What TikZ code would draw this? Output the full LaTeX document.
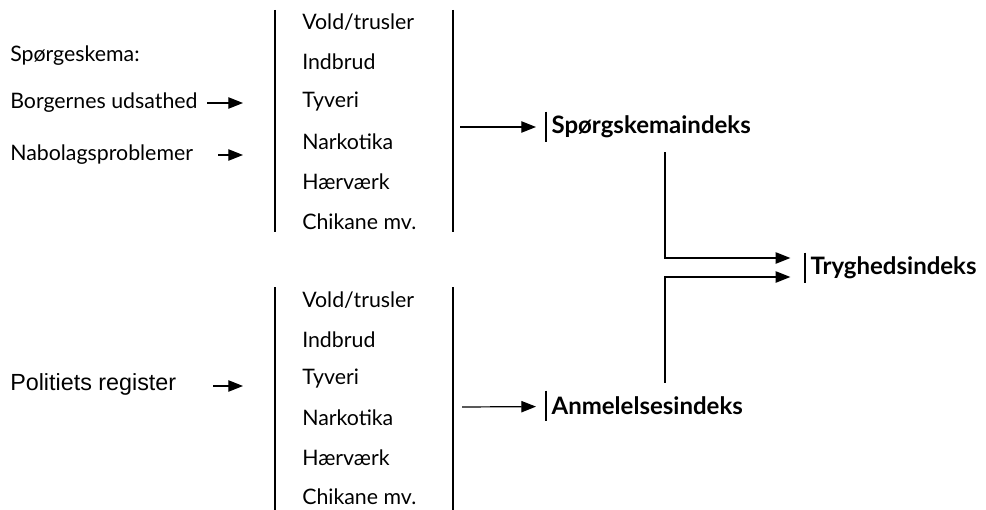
\documentclass[tikz,border=0pt]{standalone}
\usepackage{fontspec}
\setmainfont{Lato}
\newfontfamily\arialfont{Liberation Sans}
\usetikzlibrary{arrows.meta,positioning}

\begin{document}
\begin{tikzpicture}[x=0.75pt, y=-0.75pt, font=\fontsize{16}{19}\selectfont]
    \tikzstyle{srctext} = [anchor=west, inner sep=0pt]
    \tikzstyle{item} = [anchor=west, inner sep=0pt]
    \tikzstyle{idxbox} = [anchor=west, inner xsep=4pt, inner ysep=0pt, minimum height=22.5pt, font=\fontsize{18}{21}\selectfont\bfseries]
    \tikzstyle{arrow} = [line width=0.9pt, -{Triangle[length=11pt, width=8.5pt]}]
    \tikzstyle{bar} = [line width=0.9pt]

    \useasboundingbox (0,0) rectangle (986,510);

    % sources
    \node [srctext] (survey) at (10,56) {Spørgeskema:};
    \node [srctext] (exposed) at (10,103) {Borgernes udsathed};
    \node [srctext] (nbhood) at (10,155) {Nabolagsproblemer};
    \node [srctext, font=\arialfont\fontsize{17.5}{20}\selectfont] (police) at (10,384) {Politiets register};

    \coordinate (exposedin) at (243,103);
    \coordinate (nbhoodin) at (243,155);
    \coordinate (policein) at (243,386);

    \draw [arrow, shorten <=7pt] (exposed.east) -- (exposedin);
    \draw [arrow] (nbhoodin -| 218,0) -- (nbhoodin);
    \draw [arrow] (policein -| 213,0) -- (policein);

    % crime types
    \draw [bar] (275,10) -- (275,232);
    \draw [bar] (453,10) -- (453,232);
    \foreach \t [count=\i from 0] in {Vold/trusler, Indbrud, Tyveri, Narkotika, Hærværk, Chikane mv.}
        \node [item] (q\i) at (302,22+40*\i) {\t};

    \draw [bar] (275,287) -- (275,510);
    \draw [bar] (453,287) -- (453,510);
    \foreach \t [count=\i from 0] in {Vold/trusler, Indbrud, Tyveri, Narkotika, Hærværk, Chikane mv.}
        \node [item] (p\i) at (302,300+39.4*\i) {\t};

    % indices
    \node [idxbox] (surveyidx) at (546,127) {Spørgskemaindeks};
    \node [idxbox] (reportidx) at (546,406) {Anmelelsesindeks};
    \node [idxbox] (safeidx) at (805,268) {Tryghedsindeks};
    \foreach \n in {surveyidx, reportidx, safeidx}
        \draw [bar] (\n.north west) -- (\n.south west);

    \coordinate (surveyout) at (460,127);
    \coordinate (reportout) at (462,407);
    \draw [arrow, shorten >=7.5pt] (surveyout) -- (surveyidx);
    \draw [arrow, shorten >=7.5pt] (reportout) -- (reportidx);

    \coordinate (turnA) at (665,258);
    \coordinate (turnB) at (665,277);
    \draw [arrow, shorten <=7.5pt, shorten >=11pt] (surveyidx.south -| turnA) -- (turnA) -- (safeidx.west |- turnA);
    \draw [arrow, shorten <=6pt, shorten >=11pt] (reportidx.north -| turnB) -- (turnB) -- (safeidx.west |- turnB);
\end{tikzpicture}
\end{document}
